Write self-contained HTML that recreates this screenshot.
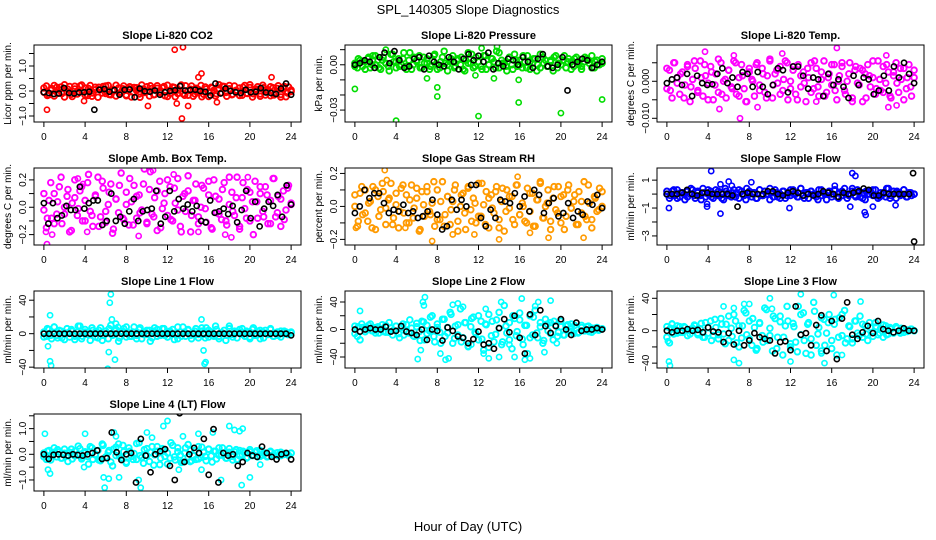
<!DOCTYPE html>
<html><head><meta charset="utf-8"><style>
html,body{margin:0;padding:0;background:#fff;width:936px;height:540px;overflow:hidden}
svg{display:block;font-family:"Liberation Sans",Arial,sans-serif}
</style></head><body>
<svg id="chart" width="936" height="540" viewBox="0 0 936 540" xmlns="http://www.w3.org/2000/svg">
<rect width="936" height="540" fill="#fff"/>
<text x="468" y="14" text-anchor="middle" font-size="13">SPL_140305  Slope Diagnostics</text>
<text x="468" y="531" text-anchor="middle" font-size="13">Hour of Day (UTC)</text>
</svg>
<script>
const xTicks=[0,4,8,12,16,20,24];
const co2Col=[-5,20,-15,10,-20,15,5,-10,25,-5,18,-22,8,-12,20,-3,12,-18,22,-8,15,-25,5,18,-10,22,-15,6,-20,12,-4,20,-16,9,-24,14,2,-12,24,-6,17,-20,10,-14,21,-2,13,-19,23,-9,16,-23,4,19,-11,21,-17,7,-21,11,-5,22,-13,8,-22,15,3,-11,25,-7,18,-21,9,-15,20,-4,12,-17,22,-10,14,-24,6,17,-12,23,-16,5,-19,13,-6,21,-14,10,-23,16,-2];
const co2ColB=[12,-18,3,22,-9,16,-24,7,-13,19,-2,24,-16,10,-21,5,15,-8,20,-14,1,23,-11,9,-19,17,-5,13,-25,8,-1,21,-15,11,-7,18,-22,4,14,-10,24,-17,2,20,-12,6,-23,16,-4,12,-20,9,19,-6,22,-13,3,-18,15,-9,25,-11,7,-21,13,-3,17,-16,10,-24,18,-8,4];
const co2Black=[-5,-8,-12,-10,12,-8,-10,-6,-5,-3,-75,5,8,-3,4,-15,5,6,-25,10,-1,-3,2,-15,-5,0,3,20,2,4,5,0,-3,-18,30,-10,10,0,-5,-8,5,-5,-3,12,-6,-8,-12,10,30,-15];
const co2Out=[[0.3,-0.75],[3.9,-0.4],[10.1,-0.6],[12.7,1.65],[13.5,1.75],[13.4,-1.1],[14,-0.6],[15.3,0.7],[15,0.55],[16.8,-0.45],[22.1,0.55],[12.9,-0.5]];
const presCol=[1,-2,3,-1,2,4,-2,6,0,3,-3,5,1,-1,7,2,-2,4,0,8,-1,3,-3,5,2,6,-2,1,4,-3,3,7,0,-2,5,1,-4,2,6,-1,4,0,-3,3,8,1,-2,5,2,-1,6,-3,0,4,2,9,-2,3,1,-4,5,0,7,-1,3,-2,2,6,-3,1,4,0,-2,5,3,-1,2,-4,6,1,0,3,-2,4,2,-1,5,0,-3,2,4,1,6,-2,3,0,1];
const presColB=[-1,4,2,-3,5,0,6,-2,3,1,-4,7,2,-1,4,-3,8,0,3,-2,5,1,-1,6,-3,2,9,0,4,-2,3,5,-4,1,7,-1,2,-3,6,0,4,-2,8,1,-1,5,-3,3,0,6,-2,2,4,-4,7,1,-1,3,5,-2,0,6,2,-3,4,1,-1,5,3,-2,2,0,4];
const presBlack=[0,1,3,2,-2,5,8,1,9,3,-2,-1,4,5,-3,6,2,0,-1,5,2,-3,4,7,3,6,2,8,-3,1,-1,4,3,0,5,2,-2,4,7,-1,-2,0,5,-17,0,2,4,3,-2,0,2];
const presOut=[[0,-0.016],[4,-0.037],[8,-0.015],[8,-0.021],[12,-0.034],[15.9,-0.025],[15.9,-0.010],[20,-0.032],[24,-0.023],[7,-0.009],[13.5,-0.009],[3,0.01],[12.3,0.011],[13.8,0.012],[11.7,-0.007]];
const tempCol=[-20,30,-45,50,10,-35,25,-10,45,-55,5,35,-25,55,-40,15,-5,40,-50,20,-30,50,0,-45,30,-15,55,-35,10,45,-20,-55,25,5,-40,50,-10,35,-30,15,60,-45,20,-5,40,-25,55,-50,0,30,-35,45,-15,25,-55,10,50,-20,35,-40,5,55,-30,20,-10,45,-50,15,40,-25,0,50,-45,30,-5,35,-55,20,45,-15,10,-35,55,-25,40,-5,25,-45,15,50,-30,5,35,-20,45,-40,10];
const tempColB=[35,-25,50,-5,20,-45,40,-15,55,-30,10,45,-50,25,-10,60,-35,5,30,-20,50,-40,15,-55,35,0,45,-25,20,-45,55,-10,30,-35,5,50,-20,40,-50,15,-5,35,-30,55,-15,25,-40,10,45,-25,0,50,-35,20,-55,40,-10,30,-45,15,55,-20,5,-30,45,-40,25,-5,35,-50,10,-15,30];
const tempBlack=[-5,5,10,-10,20,-40,15,-5,-10,-8,20,35,-5,10,-15,25,20,-15,25,-15,-35,-10,35,30,-30,40,40,15,-20,10,5,-40,20,-10,5,-15,-45,15,-10,10,5,-35,-25,15,-25,40,10,50,20,-5];
const tempOut=[[3.7,0.008],[6.5,0.007],[11.2,0.0075],[16.5,0.009],[21.3,0.007],[7.1,-0.010],[5.1,-0.0075],[8.8,-0.007],[14.5,-0.0055],[21.5,-0.007],[22.3,-0.0065]];
const ambCol=[-2,-15,5,-8,10,-5,15,-12,0,8,-18,3,20,-6,12,-10,5,18,-3,-14,8,22,-7,14,-11,2,17,-16,6,-4,25,-9,11,-13,4,16,-8,9,-2,28,-12,13,-5,7,-17,19,-1,10,-6,15,-10,3,21,-14,8,-3,12,-18,5,17,-7,0,14,-11,9,-15,20,-4,6,-9,18,-13,2,11,-6,22,-16,7,-1,13,-10,4,19,-8,10,-3,15,-12,5,21,-7,8,-14,12,-2,16,3];
const ambColB=[10,-8,18,-12,4,22,-5,13,-17,7,-1,15,-10,24,-6,9,-14,19,-3,11,-19,6,16,-8,2,21,-13,8,-4,17,-11,26,-7,12,-15,3,20,-9,14,-2,-18,10,23,-6,5,-12,16,-1,19,-16,8,-5,13,-10,22,-3,7,-14,18,-8,11,-20,4,15,-7,9,-12,21,-4,6,-9,14,2];
const ambBlack=[3,-12,3,-8,-6,1,-2,-2,15,-1,3,5,5,-13,-10,10,-10,-7,-12,-3,6,-10,-3,-2,-1,12,-12,-7,12,-3,6,-1,2,-3,1,-10,-11,5,-4,-3,-1,-5,1,-11,-2,12,-8,4,-14,-1,4,1,9,-7,16,2];
const ambOut=[[0.3,-0.27],[0.2,-0.18],[0.8,-0.2],[10.6,0.27],[12.6,0.24],[4.2,-0.18],[9.2,-0.21],[17.6,-0.2],[18.2,-0.22],[15,-0.18],[19.8,0.22],[3.3,0.21],[3.8,0.17]];
const rhCol=[0,-12,8,-5,10,-9,3,12,-14,6,-2,9,-11,4,14,-7,1,-13,11,-4,7,-10,13,-1,5,-15,9,-6,12,-3,2,-12,10,-8,15,-5,6,-11,3,13,-9,0,8,-14,11,-2,5,-10,14,-6,1,9,-13,7,-4,12,-8,3,-15,10,-1,6,-11,13,-5,2,-9,11,-3,8,-12,4,14,-7,0,10,-14,5,-2,12,-10,7,-6,13,-1,3,-11,9,-4,15,-8,2,-13,6,-3,11,0];
const rhColB=[7,-9,12,-4,2,-13,10,-6,14,-1,5,-11,8,-3,13,-10,4,-7,11,-14,1,9,-5,15,-8,3,-12,6,-2,10,-15,7,-4,12,-9,2,-6,14,-11,5,-1,9,-13,11,-3,6,-8,13,-5,0,-10,8,-12,4,15,-7,2,-9,12,-4,6,-14,10,-1,7,-11,3,-6,13,-8,5,-2,9];
const rhBlack=[-4,0,10,5,8,8,2,-4,-2,-3,1,-4,-3,-7,-6,-3,4,-5,-14,-12,4,-2,4,0,13,13,-7,-12,-2,-7,4,3,2,8,0,6,-3,10,7,-4,2,5,-6,-4,2,-7,-3,-5,3,1,7,-1];
const rhOut=[[2.9,0.22],[3.1,0.16],[7.5,-0.21],[9.5,-0.17],[11.6,-0.17],[14,-0.2],[15.8,0.18],[17,-0.16],[18.8,-0.19],[22.2,-0.19],[0.1,-0.13],[4.9,-0.13]];
const sfCol=[0,-3,2,-1,3,-2,1,-4,2,0,3,-3,1,-1,4,-2,0,2,-3,3,-1,1,-4,2,0,-2,3,1,-3,2,-1,4,0,-2,1,-3,3,-1,2,0,-4,1,3,-2,0,2,-3,1,-1,3,0,-2,4,-1,1,-3,2,0,-2,3,-1,1,-4,2,0,3,-2,1,-1,4,-3,0,2,-1,3,-2,1,-4,0,2,-1,3,-3,1,0,-2,4,-1,2,-3,1,0,3,-2,1,-1,0];
const sfColB=[2,-1,3,-3,1,0,-2,4,-1,2,-4,1,3,-2,0,2,-3,4,-1,1,-2,3,0,-4,2,1,-3,3,-1,0,4,-2,1,-3,2,-1,3,0,-2,4,-3,1,2,-1,-4,3,0,1,-2,3,-3,2,0,-1,4,-2,1,-3,2,0,3,-1,-2,1,4,-3,0,2,-1,3,-2,1,0];
const sfBlack=[0,0,0,1,3,0,-1,1,1,0,0,0,0,-1,-9,0,1,0,0,0,2,2,0,-1,1,2,1,-1,0,-1,0,2,1,0,-2,1,0,1,2,4,3,-1,-1,1,0,0,0,0,0,-34];
const sfOut=[[0.2,-1.0],[5.2,-1.4],[4.3,1.65],[5.2,0.7],[6,0.9],[6.3,0.6],[8.2,0.85],[11.9,-1.0],[16.3,0.6],[18,1.5],[18.3,1.3],[17.8,-0.9],[19.2,-1.3],[19.3,-1.5],[20,-0.9],[22.2,-0.8],[3.9,-0.7],[3.9,-0.9]];
const sfBlackOut=[[23.9,1.5]];
const l1Col=[2,-3,5,-6,8,-2,4,-5,1,6,-4,3,-7,2,9,-3,5,-1,-8,4,2,-5,7,-2,3,-6,10,-1,4,-9,3,6,-4,1,-3,8,-2,5,-6,2,-1,4,-5,7,-3,1,6,-2,-4,3,5,-1,-6,2,8,-3,4,-2,1,6,-5,3,-1,7,-4,2,-3,5,-6,1,4,-2,9,-1,3,-5,2,6,-3,1,-4,5,-2,3,-6,2,4,-1,5,-3,1,-2,3,0,2,-1,1];
const l1ColB=[-4,6,-2,8,-5,3,-7,1,5,-3,9,-6,2,-1,7,-4,4,-8,3,6,-2,5,-5,1,8,-3,2,-6,7,-1,4,-9,3,5,-2,6,-4,1,-7,8,-3,2,5,-6,3,-1,7,-5,4,-2,9,-3,1,-8,6,-4,2,5,-1,3,-6,7,-2,4,-5,1,6,-3,2,-4,3,-1,2];
const l1Black=[0,0,0,0,0,0,0,0,0,0,0,0,0,0,0,0,0,0,0,0,0,0,0,0,0,0,0,0,0,0,0,0,0,0,0,0,0,0,0,0,0,0,0,0,0,0,0,0,-2];
const l1Out=[[0.6,22],[0.4,-15],[0.6,-33],[0.7,-38],[6.5,47],[6.4,37],[7,12],[6.6,17],[6.3,-22],[6.2,-42],[6.9,-31],[7.2,8],[15.3,17],[15.5,-20],[15.7,-34],[15.6,-36]];
const l2Col=[5,-10,-15,3,-3,2,8,-2,-5,4,1,-3,6,-4,2,-1,5,-6,3,-8,7,-5,2,-10,9,-3,12,-15,6,-2,20,-18,8,-4,15,-10,3,25,-20,5,-8,30,-12,10,-25,4,18,-6,-15,12,-30,7,22,-9,-18,14,2,-22,35,-5,10,-28,16,-3,24,-14,6,-35,20,-8,28,-12,4,-20,15,-2,10,-15,6,-4,12,-8,5,-3,8,-6,2,-4,6,-2,4,-3,2,-1,3,0,1];
const l2ColB=[-6,4,8,-3,6,-2,3,-5,7,-4,10,-8,5,-12,8,-3,14,-9,4,-16,11,-6,18,-10,3,-20,15,-5,22,-13,7,-18,10,-24,16,-4,20,-14,8,-26,12,-7,25,-18,5,-15,20,-9,14,-22,6,-12,18,-5,10,-16,8,-6,12,-10,4,-8,7,-3,6,-5,3,-2,5,-4,2,-1,1];
const l2Black=[0,-3,0,2,0,0,4,-3,-2,5,-3,-5,-8,0,-15,0,-2,-16,3,-2,-10,-12,-20,-14,-3,-22,-20,-28,2,15,-4,20,-12,-35,22,-8,28,5,-5,5,15,0,-8,10,-2,0,0,2,0];
const l2Out=[[0.5,27],[6.4,-30],[6.1,-43],[6.8,47],[6.6,40],[6.7,35],[8.3,-35],[8.8,-44],[9.1,-42],[9.5,36],[10,38],[10.5,33],[12.5,-35],[14.2,40],[15,-22],[16.2,45],[16.5,-44],[17.5,34],[17.8,40],[18.4,-33],[19,42],[19.6,-20],[13,-42],[14,-40],[15.5,-40],[17,-42],[11.3,-22],[12.7,30]];
const l3Col=[5,-15,8,2,-3,5,-2,4,1,-4,3,6,-5,2,-8,10,-3,12,-6,4,-10,15,-4,8,-12,3,20,-15,6,-9,25,-5,12,-18,4,-22,10,-6,28,-12,3,-25,15,-8,18,-30,6,12,-20,9,-14,30,-5,22,-28,10,-10,35,-18,4,-25,14,-3,20,-12,8,-30,16,-6,25,-10,5,-15,12,-3,18,-8,6,-12,4,-2,10,-5,3,-8,6,-4,2,-3,5,-1,3,-2,1,0,2,0];
const l3ColB=[-8,3,-4,6,-2,5,-6,2,7,-3,9,-8,4,-12,14,-5,8,-16,18,-7,12,-20,6,22,-10,15,-24,9,-14,26,-6,18,-22,11,-8,30,-16,5,-26,20,-12,8,-30,24,-4,16,-18,10,-22,14,-8,20,-15,6,-10,12,-6,8,-4,10,-7,5,-3,7,-5,4,-2,3,-3,2,-1,2,0];
const l3Black=[0,-2,0,0,2,0,1,-2,4,-1,-2,-14,-3,-17,0,-18,-12,-3,-8,-10,-12,-28,-14,-13,-24,30,-5,-3,-18,7,19,-25,12,-35,15,35,-5,-10,-2,6,-3,12,2,0,-2,0,3,0,0];
const l3Out=[[0.2,-38],[0.3,-43],[0.1,-13],[0.5,9],[5.5,30],[6.5,28],[7.5,33],[8,33],[7,-40],[6.5,-36],[10.2,27],[10,40],[12,-38],[13,45],[15.3,-40],[16.2,44],[17,-30],[18,-10],[18.8,36],[15,-28]];
const l4Col=[5,-20,15,-5,25,-10,10,-15,20,-3,8,-18,12,-2,22,-12,5,-8,30,-20,0,15,-25,35,-10,8,-30,20,-5,40,-15,10,-35,25,-8,3,-20,45,-12,18,-5,-28,30,-2,12,-40,22,-8,5,-15,35,-22,10,-3,-30,25,-10,15,-5,-20,30,-12,8,-25,20,-6,12,-18,25,-3,5,-15,22,-8,10,-20,15,-2,6,-12,18,-5,8,-10,15,-3,5,-8,12,-2,4,-6,8,-1,3,-4,5];
const l4ColB=[-10,12,-22,8,18,-15,4,-28,20,-6,32,-18,10,-38,25,-2,-22,40,-12,15,-45,28,-8,35,-30,12,-20,42,-5,-35,22,8,-42,30,-15,18,-38,45,-10,25,-32,5,38,-25,15,-18,28,-8,20,-30,12,-4,25,-15,8,-22,18,-6,12,-15,10,-3,14,-8,5,-10,8,-2,6,-5,3,-2,4];
const l4Black=[0,-18,-2,0,-2,-5,0,-3,-5,0,5,15,-18,-15,85,8,-22,0,5,-110,60,-5,-70,0,12,20,-45,-100,160,-30,0,25,5,60,-80,98,-110,5,-5,0,-45,-30,5,-5,-10,30,5,-10,-20,0,5,-20];
const l4Out=[[0.1,0.8],[0.4,-0.6],[0.6,-0.75],[3.9,-0.5],[5.8,-0.9],[5.9,-1.3],[6.3,-0.95],[6.8,0.85],[7,0.7],[7.3,-0.9],[9.2,-1.0],[9.4,-1.3],[10,0.85],[10.5,0.65],[11.6,1.1],[12,1.3],[13.1,-0.6],[13.5,0.7],[14.2,-0.3],[15,0.8],[15.3,-0.6],[16.4,0.85],[17.2,-1.0],[18,1.1],[18.5,0.95],[19,0.9],[19.3,1.0],[19.2,-1.2],[20,-0.9],[21,-0.4],[4,0.8]];

const panels=[
 {name:'co2',title:'Slope Li-820 CO2',ylab:'Licor ppm per min.',col:'#ff0000',c:co2Col,c2:co2ColB,b:co2Black,o:co2Out,bo:[],unitC:0.01,unitB:0.01,ylim:[-1.24,1.84],ticks:[-1,-0.5,0,0.5,1,1.5],labels:['−1.0','','0.0','','1.0','']},
 {name:'pressure',title:'Slope Li-820 Pressure',ylab:'kPa per min.',col:'#00dd00',c:presCol,c2:presColB,b:presBlack,o:presOut,bo:[],unitC:0.001,unitB:0.001,ylim:[-0.0379,0.0131],ticks:[0.01,0,-0.01,-0.02,-0.03],labels:['','0.00','','','−0.03']},
 {name:'temp',title:'Slope Li-820 Temp.',ylab:'degrees C per min.',col:'#ff00ff',c:tempCol,c2:tempColB,b:tempBlack,o:tempOut,bo:[],unitC:0.0001,unitB:0.0001,ylim:[-0.011,0.0098],ticks:[0.005,0,-0.005,-0.01],labels:['','0.000','','−0.010']},
 {name:'amb-box-temp',title:'Slope Amb. Box Temp.',ylab:'degrees C per min.',col:'#ff00ff',c:ambCol,c2:ambColB,b:ambBlack,o:ambOut,bo:[],unitC:0.01,unitB:0.01,ylim:[-0.276,0.287],ticks:[0.2,0.1,0,-0.1,-0.2],labels:['0.2','','0.0','','−0.2']},
 {name:'gas-stream-rh',title:'Slope Gas Stream RH',ylab:'percent per min.',col:'#ff9a00',c:rhCol,c2:rhColB,b:rhBlack,o:rhOut,bo:[],unitC:0.01,unitB:0.01,ylim:[-0.234,0.233],ticks:[0.2,0.1,0,-0.1,-0.2],labels:['0.2','','0.0','','−0.2']},
 {name:'sample-flow',title:'Slope Sample Flow',ylab:'ml/min per min.',col:'#0000ff',c:sfCol,c2:sfColB,b:sfBlack,o:sfOut,bo:sfBlackOut,unitC:0.1,unitB:0.1,ylim:[-3.65,1.87],ticks:[1,0,-1,-2,-3],labels:['1','','−1','','−3']},
 {name:'line1-flow',title:'Slope Line 1 Flow',ylab:'ml/min per min.',col:'#00ffff',c:l1Col,c2:l1ColB,b:l1Black,o:l1Out,bo:[],unitC:1,unitB:1,ylim:[-41,51],ticks:[40,20,0,-20,-40],labels:['40','','0','','−40']},
 {name:'line2-flow',title:'Slope Line 2 Flow',ylab:'ml/min per min.',col:'#00ffff',c:l2Col,c2:l2ColB,b:l2Black,o:l2Out,bo:[],unitC:1,unitB:1,ylim:[-56,56],ticks:[40,20,0,-20,-40],labels:['40','','0','','−40']},
 {name:'line3-flow',title:'Slope Line 3 Flow',ylab:'ml/min per min.',col:'#00ffff',c:l3Col,c2:l3ColB,b:l3Black,o:l3Out,bo:[],unitC:1,unitB:1,ylim:[-46,49],ticks:[40,20,0,-20,-40],labels:['40','','0','','−40']},
 {name:'line4-flow',title:'Slope Line 4 (LT) Flow',ylab:'ml/min per min.',col:'#00ffff',c:l4Col,c2:l4ColB,b:l4Black,o:l4Out,bo:[],unitC:0.01,unitB:0.01,ylim:[-1.43,1.57],ticks:[1.5,1,0.5,0,-0.5,-1],labels:['','1.0','','0.0','','−1.0']}
];

const NS='http://www.w3.org/2000/svg';
const svg=document.getElementById('chart');
const colLefts=[34,345,657], rowTops=[45,168,291,414], W=267, H=77;
function mk(tag,attrs,parent){const e=document.createElementNS(NS,tag);for(const k in attrs)e.setAttribute(k,attrs[k]);parent.appendChild(e);return e;}

panels.forEach((p,i)=>{
  const L=colLefts[i%3], T=rowTops[Math.floor(i/3)];
  const g=mk('g',{},svg);
  
  
  const xs=v=>L+(v+0.96)/25.92*W;
  const ys=v=>T+H-(v-p.ylim[0])/(p.ylim[1]-p.ylim[0])*H;
  const t=mk('text',{x:L+W/2,y:T-6,'text-anchor':'middle','font-size':'11','font-weight':'bold'},g);
  t.textContent=p.title;
  
  
  const yt=mk('text',{x:0,y:0,transform:`translate(${L-23},${T+H/2}) rotate(-90)`,'text-anchor':'middle','font-size':'10'},g);
  yt.textContent=p.ylab;
  
  
  const cid='clip'+i;
  const cp=mk('clipPath',{id:cid},g);mk('rect',{x:L,y:T,width:W,height:H},cp);
  const pts=mk('g',{'clip-path':`url(#${cid})`},g);
  
  
  [p.c,p.c2].forEach(arr=>{
    const n=arr.length;
    arr.forEach((v,k)=>{
      const c=mk('circle',{cx:xs(k*24/(n-1)),cy:ys(v*p.unitC),r:2.8,fill:'none',stroke:p.col,'stroke-width':1.9},pts);
      
      
    });
  });
  p.o.forEach(([h,v])=>{
    const c=mk('circle',{cx:xs(h),cy:ys(v),r:2.6,fill:'none',stroke:p.col,'stroke-width':1.6},pts);
    
    
  });
  const nb=p.b.length;
  p.b.forEach((v,k)=>{
    const c=mk('circle',{cx:xs(k*24/(nb-1)),cy:ys(v*p.unitB),r:2.6,fill:'none',stroke:'#000','stroke-width':1.6},pts);
    
    
  });
  p.bo.forEach(([h,v])=>{
    const c=mk('circle',{cx:xs(h),cy:ys(v),r:2.6,fill:'none',stroke:'#000','stroke-width':1.6},pts);
    
    
  });
  const box=mk('rect',{x:L,y:T,width:W,height:H,fill:'none',stroke:'#000','stroke-width':1},g);
  
  
  xTicks.forEach(h=>{
    mk('line',{x1:xs(h),x2:xs(h),y1:T+H,y2:T+H+5,stroke:'#000'},g);
    const lb=mk('text',{x:xs(h),y:T+H+18,'text-anchor':'middle','font-size':'10'},g);
    lb.textContent=h;
    
    
  });
  p.ticks.forEach((v,k)=>{
    const y=ys(v);
    mk('line',{x1:L-5,x2:L,y1:y,y2:y,stroke:'#000'},g);
    if(p.labels[k]){
      const lb=mk('text',{x:0,y:0,transform:`translate(${L-8},${y}) rotate(-90)`,'text-anchor':'middle','font-size':'10'},g);
      lb.textContent=p.labels[k];
      
      
    }
  });
});
</script>
</body></html>
